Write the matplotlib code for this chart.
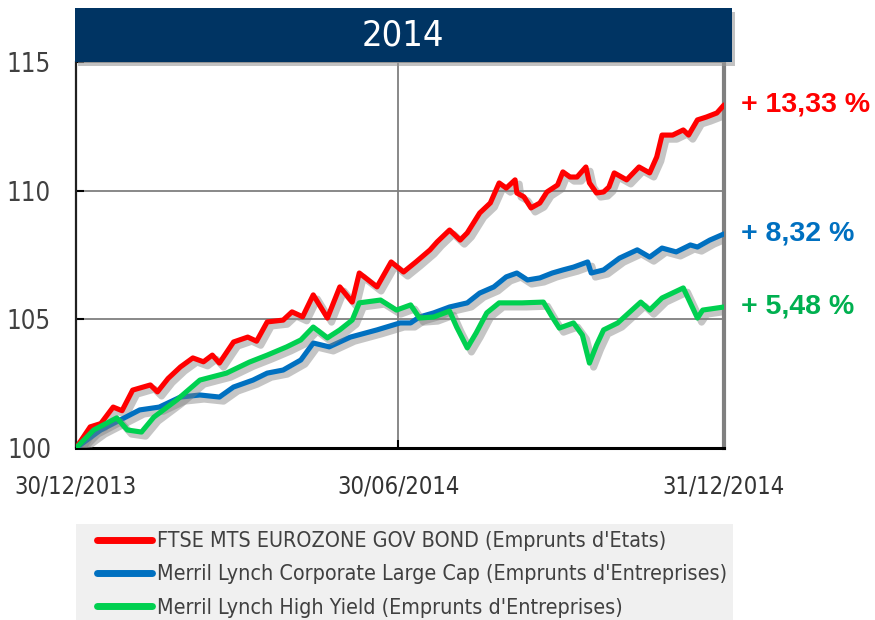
import matplotlib
matplotlib.use("Agg")
import matplotlib.pyplot as plt
import matplotlib.patheffects as pe
from matplotlib.patches import Rectangle
from matplotlib import font_manager
from matplotlib.font_manager import FontProperties

# find a condensed / narrow font if available
cond_file = None
for f in font_manager.fontManager.ttflist:
    low = (f.fname + f.name).lower()
    if ('narrow' in low or 'condensed' in low) and 'bold' not in low and 'oblique' not in low \
            and 'italic' not in low and f.weight in (400, 'normal', 'regular'):
        if 'sans' in low or 'roboto' in low:
            cond_file = f.fname
            break
names = {f.name for f in font_manager.fontManager.ttflist}
bold_font = 'Liberation Sans' if 'Liberation Sans' in names else 'DejaVu Sans'

def cfp(size):
    if cond_file:
        return FontProperties(fname=cond_file, size=size)
    return FontProperties(family='DejaVu Sans', stretch='condensed', size=size)

# ---- data (day offsets from 30/12/2013, index level base 100) ----
red_days = [0, 8, 14, 21, 26, 32, 42, 46, 52, 59, 66, 72, 77, 81, 89, 97, 102, 108, 117, 122, 128,
            134, 142, 149, 156, 160, 170, 178, 185, 192, 200, 204, 211, 217, 221, 228, 234, 239,
            243, 248, 249, 253, 257, 262, 266, 272, 275, 279, 283, 288, 290, 294, 298, 301, 304,
            311, 318, 324, 328, 331, 337, 343, 346, 351, 356, 362, 366]
red_vals = [100.00, 100.82, 100.95, 101.59, 101.45, 102.25, 102.45, 102.18, 102.70, 103.15, 103.50,
            103.35, 103.61, 103.30, 104.12, 104.31, 104.15, 104.90, 104.97, 105.29, 105.10, 105.95,
            105.05, 106.26, 105.67, 106.80, 106.26, 107.23, 106.84, 107.23, 107.70, 108.01, 108.47,
            108.08, 108.36, 109.13, 109.52, 110.30, 110.10, 110.42, 109.91, 109.76, 109.33, 109.52,
            109.95, 110.22, 110.73, 110.53, 110.53, 110.92, 110.30, 109.91, 109.95, 110.14, 110.69,
            110.42, 110.92, 110.69, 111.31, 112.16, 112.16, 112.36, 112.16, 112.75, 112.86, 113.02,
            113.33]

blue_days = [0, 14, 25, 36, 47, 59, 70, 81, 89, 100, 108, 117, 127, 134, 143, 155, 170, 183, 189,
             194, 202, 211, 221, 228, 236, 243, 249, 255, 262, 269, 275, 281, 289, 291, 298, 307,
             317, 324, 331, 339, 347, 351, 358, 366]
blue_vals = [100.00, 100.70, 101.09, 101.48, 101.59, 101.98, 102.06, 101.98, 102.37, 102.64, 102.91,
             103.03, 103.42, 104.08, 103.93, 104.31, 104.59, 104.86, 104.86, 105.09, 105.25, 105.48,
             105.64, 106.02, 106.26, 106.65, 106.80, 106.53, 106.61, 106.80, 106.92, 107.03, 107.23,
             106.80, 106.92, 107.38, 107.70, 107.42, 107.77, 107.62, 107.89, 107.81, 108.08, 108.32]

green_days = [0, 10, 23, 29, 37, 44, 57, 70, 85, 98, 108, 119, 127, 134, 142, 149, 156, 160, 172,
              181, 189, 194, 202, 211, 215, 221, 226, 232, 239, 252, 264, 269, 273, 281, 286, 290,
              294, 298, 306, 319, 324, 331, 343, 351, 354, 366]
green_vals = [100.00, 100.70, 101.17, 100.70, 100.62, 101.20, 101.87, 102.64, 102.91, 103.34, 103.61,
              103.93, 104.20, 104.70, 104.28, 104.59, 104.97, 105.64, 105.75, 105.36, 105.56, 105.05,
              105.09, 105.32, 104.70, 103.89, 104.47, 105.25, 105.64, 105.64, 105.67, 105.09, 104.66,
              104.86, 104.39, 103.30, 104.00, 104.59, 104.86, 105.67, 105.36, 105.83, 106.22, 105.05,
              105.36, 105.48]

series_names = ["FTSE MTS EUROZONE GOV BOND (Emprunts d'Etats)",
                "Merril Lynch Corporate Large Cap (Emprunts d'Entreprises)",
                "Merril Lynch High Yield (Emprunts d'Entreprises)"]
series_colors = ['#FF0000', '#0070C0', '#00D050']
perf_labels = ['+ 13,33 %', '+ 8,32 %', '+ 5,48 %']
perf_colors = ['#FF0000', '#0070C0', '#00B050']
x_ticks = [0, 182, 366]
x_ticklabels = ['30/12/2013', '30/06/2014', '31/12/2014']
y_ticks = [100, 105, 110, 115]
title = '2014'

fig = plt.figure(figsize=(8.75, 6.2), dpi=100)
ax = fig.add_axes([76/875, 1-448/620, 648/875, 386/620])

shadow = [pe.SimpleLineShadow(offset=(3, -3), shadow_color='#808080', alpha=0.45, linewidth=5),
          pe.Normal()]
lines = []
for d, v, c, n in zip([red_days, blue_days, green_days], [red_vals, blue_vals, green_vals],
                      series_colors, series_names):
    ln, = ax.plot(d, v, color=c, lw=3.7, label=n, solid_capstyle='round',
                  solid_joinstyle='round', path_effects=shadow, zorder=3)
    lines.append(ln)

ax.set_xlim(0, 366)
ax.set_ylim(100, 115)
ax.set_yticks(y_ticks)
ax.set_xticks(x_ticks)
ax.set_xticklabels(x_ticklabels)
ax.tick_params(axis='y', direction='in', length=6, width=1.5, labelcolor='#404040', pad=18)
ax.tick_params(axis='x', direction='in', length=6, width=1.5, labelcolor='#333333', pad=19)
for lab in ax.get_yticklabels():
    lab.set_fontproperties(cfp(18.5))
for lab in ax.get_xticklabels():
    lab.set_fontproperties(cfp(17))
ax.grid(True, color='#7f7f7f', lw=1.3)
ax.set_axisbelow(True)
ax.spines['left'].set_color('#202020'); ax.spines['left'].set_linewidth(1.6)
ax.spines['bottom'].set_color('#000000'); ax.spines['bottom'].set_linewidth(2.2)
ax.spines['right'].set_color('#808080'); ax.spines['right'].set_linewidth(3)
ax.spines['top'].set_visible(False)

# performance labels at right
for v, t, c in zip([red_vals[-1], blue_vals[-1], green_vals[-1]], perf_labels, perf_colors):
    ax.annotate(t, xy=(366, v), xytext=(12, 0), textcoords='offset points',
                color=c, fontsize=20.5, fontweight='bold', family=bold_font,
                va='center', ha='left', annotation_clip=False)

# title banner with shadow
fig.patches.append(Rectangle((78/875, 1-66/620), 657/875, 54/620, transform=fig.transFigure,
                             facecolor='#9a9a9a', edgecolor='none', alpha=0.6, zorder=4))
fig.patches.append(Rectangle((75/875, 1-62/620), 657/875, 54/620, transform=fig.transFigure,
                             facecolor='#003463', edgecolor='none', zorder=5))
fig.text(403/875, 1-35/620, title, color='white', fontproperties=cfp(26),
         ha='center', va='center', zorder=6)

# legend background
fig.patches.append(Rectangle((76/875, 0), 657/875, 96/620, transform=fig.transFigure,
                             facecolor='#F0F0F0', edgecolor='none', zorder=0))
leg = fig.legend(handles=lines, labels=series_names, loc='upper left',
                 bbox_to_anchor=(97/875, 1-531/620), bbox_transform=fig.transFigure,
                 prop=cfp(15.4), handlelength=2.57, handletextpad=0.23,
                 labelspacing=0.62, borderpad=0.0, borderaxespad=0.0, frameon=False)
for t in leg.get_texts():
    t.set_color('#404040')
for h in leg.legend_handles:
    h.set_path_effects([])
    h.set_linewidth(5)

fig.savefig('out.png', dpi=100)
